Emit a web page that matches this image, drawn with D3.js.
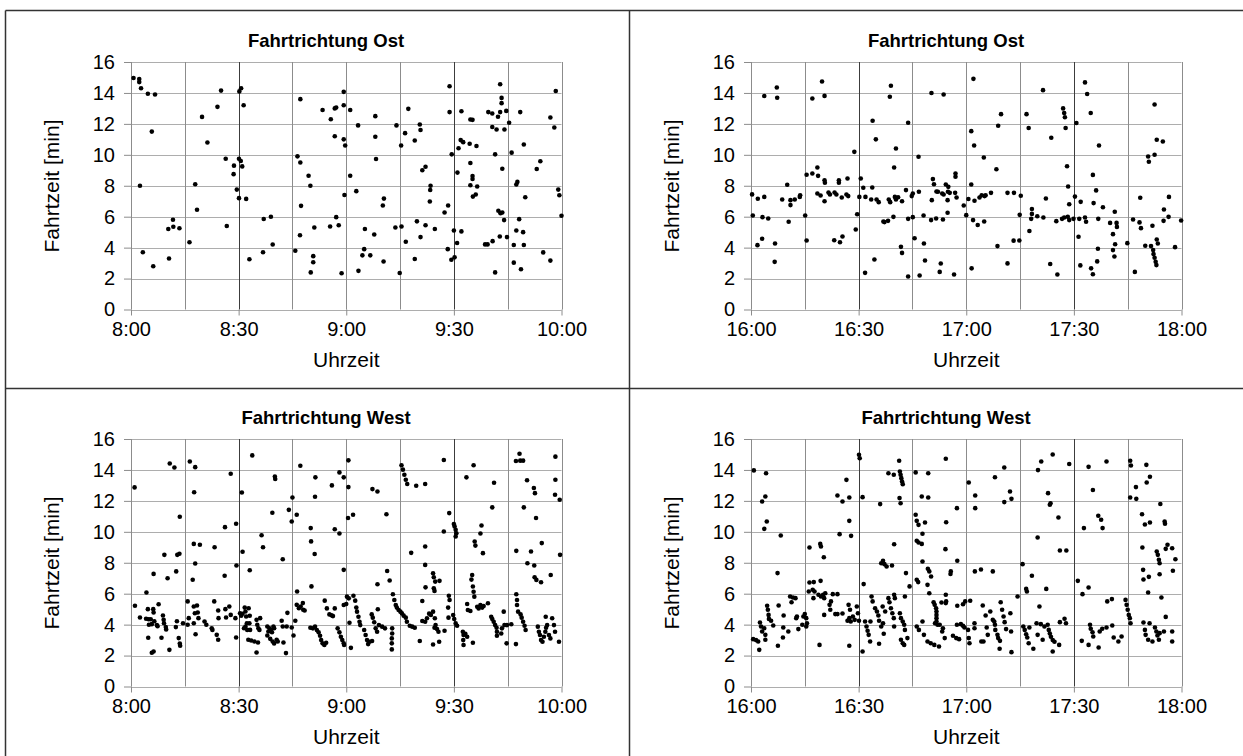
<!DOCTYPE html>
<html>
<head>
<meta charset="utf-8">
<script src="https://cdn.jsdelivr.net/npm/d3@7"></script>
<style>
  body { margin: 0; background: #fff; }
  text { font-family: "Liberation Sans", Arial, sans-serif; fill: #000; }
</style>
</head>
<body>
<div id="chart"></div>
<script>
var svgWidth = 1243;
var svgHeight = 756;

// tick labels
var amTickLabels = ["8:00", "8:30", "9:00", "9:30", "10:00"];
var pmTickLabels = ["16:00", "16:30", "17:00", "17:30", "18:00"];
var tickMinutes = [0, 30, 60, 90, 120];
var yTickValues = [0, 2, 4, 6, 8, 10, 12, 14, 16];

// [minutes after start of window, travel time in min]
var ostVormittag = [[0.7,14.97],[2.3,14.9],[2.3,14.7],[2.8,14.3],[4.7,13.95],[6.7,13.9],[5.8,11.5],[2.5,8.0],[3.3,3.7],[6.2,2.8],[10.6,3.3],[10.4,5.2],[11.7,5.8],[11.8,5.35],[13.5,5.25],[16.3,4.35],[17.9,8.1],[18.4,6.45],[19.8,12.45],[21.3,10.8],[24.1,13.1],[25.1,14.15],[26.7,5.4],[26.4,9.75],[28.7,9.3],[28.6,8.75],[29.5,7.75],[30.1,7.2],[30.1,9.75],[30.6,9.6],[31.0,9.25],[30.2,14.1],[30.7,14.3],[31.4,13.2],[32.1,7.15],[33.0,3.25],[36.8,3.7],[37.0,5.85],[39.0,6.0],[39.5,4.2],[45.8,3.8],[46.4,9.9],[47.2,9.5],[47.2,13.6],[47.1,4.8],[47.4,6.7],[49.5,8.65],[50.0,8.0],[50.1,2.4],[50.8,3.45],[50.8,3.05],[51.1,5.3],[53.4,12.9],[55.7,12.3],[56.8,13.0],[57.2,13.06],[56.8,11.2],[59.3,14.07],[59.3,13.2],[59.3,11.0],[59.7,10.6],[61.1,12.9],[63.3,11.9],[61.1,8.65],[59.5,7.4],[62.8,7.65],[57.2,5.97],[55.5,5.37],[57.9,5.45],[58.7,2.34],[63.4,2.5],[64.5,3.5],[65.0,3.9],[66.7,3.5],[65.2,5.2],[67.8,4.85],[68.1,12.5],[68.1,11.17],[68.3,9.73],[70.2,6.72],[70.5,7.17],[70.4,3.1],[73.7,5.3],[75.4,5.37],[74.0,11.9],[76.4,11.4],[77.3,12.97],[75.3,10.6],[76.6,4.38],[74.9,2.36],[79.1,3.26],[79.1,10.93],[80.5,11.96],[80.7,11.6],[79.7,5.7],[80.7,4.68],[82.1,5.45],[84.7,5.2],[81.2,9.0],[82.1,9.23],[83.5,8.0],[83.4,7.73],[83.3,6.98],[87.4,6.27],[88.4,6.72],[88.3,3.9],[89.3,3.22],[90.2,3.37],[88.8,14.43],[88.8,12.76],[89.4,10.03],[90.0,5.11],[90.9,4.3],[92.1,5.05],[91.0,8.85],[91.3,10.42],[92.1,12.82],[91.9,10.95],[92.6,10.82],[94.4,10.72],[96.3,10.57],[94.6,12.28],[95.2,12.26],[94.6,9.47],[95.2,8.63],[95.2,8.44],[94.6,8.03],[96.5,7.95],[95.3,7.3],[96.1,7.43],[98.7,4.21],[99.4,4.21],[100.8,4.42],[102.8,4.72],[104.8,4.68],[101.5,2.4],[99.6,12.76],[100.7,12.67],[102.3,12.46],[102.9,12.76],[104.6,12.84],[102.9,14.56],[103.3,13.68],[103.3,13.34],[100.7,11.8],[101.9,11.64],[104.1,11.64],[105.4,12.07],[101.5,10.03],[103.5,9.1],[106.1,10.14],[102.4,6.38],[103.0,6.23],[103.5,6.27],[104.0,5.78],[107.4,8.08],[107.7,8.25],[108.2,5.84],[107.4,5.11],[109.3,5.0],[106.7,4.17],[109.5,4.17],[106.7,3.03],[108.7,2.6],[109.9,7.26],[108.5,12.76],[109.5,10.67],[113.1,9.08],[114.1,9.58],[114.9,3.69],[116.9,3.16],[116.9,12.41],[118.0,11.77],[118.4,14.13],[119.1,7.75],[119.4,7.39],[120.0,6.06]];

var ostNachmittag = [[0.3,7.44],[0.5,6.08],[1.9,7.16],[3.7,7.28],[1.8,4.16],[3.1,4.57],[3.2,5.97],[4.8,5.88],[3.7,13.8],[7.2,14.35],[7.3,13.69],[6.7,4.27],[6.6,3.08],[8.7,7.11],[10.1,8.06],[10.5,5.67],[11.0,7.07],[11.0,6.75],[12.2,7.11],[13.6,7.28],[13.7,7.39],[15.1,6.08],[15.5,4.46],[15.5,8.71],[17.1,8.79],[18.5,9.18],[18.7,8.64],[17.1,13.64],[19.8,14.74],[20.5,13.81],[18.5,7.5],[19.4,7.37],[20.5,8.36],[20.6,8.19],[20.5,7.0],[21.6,7.56],[22.0,7.43],[23.3,7.56],[23.8,7.43],[24.5,8.36],[24.5,8.19],[25.3,7.24],[26.9,8.47],[26.6,7.43],[27.1,7.33],[23.2,4.48],[24.8,4.35],[25.5,4.72],[28.8,10.19],[29.2,5.17],[29.6,6.16],[30.2,7.28],[30.6,8.47],[31.3,7.87],[31.9,7.28],[31.8,2.37],[33.8,7.89],[33.5,7.11],[34.4,3.23],[33.9,12.2],[34.8,11.0],[35.0,7.11],[35.6,6.94],[36.9,5.69],[37.2,5.65],[38.2,5.73],[38.4,7.11],[38.8,6.94],[38.7,13.75],[39.0,14.46],[39.7,5.99],[40.1,7.28],[40.4,7.11],[40.4,10.41],[39.9,9.18],[41.8,4.05],[42.1,3.66],[41.0,7.26],[42.1,7.0],[43.2,7.72],[43.8,12.07],[43.8,5.86],[43.8,2.13],[45.1,7.5],[44.8,7.33],[45.1,5.97],[45.6,4.61],[46.8,7.61],[46.7,9.87],[47.0,2.2],[48.1,6.08],[48.2,4.27],[48.5,3.17],[50.3,14.0],[53.7,13.9],[50.7,8.43],[51.0,8.1],[50.4,7.07],[51.7,7.63],[52.1,7.61],[53.3,7.5],[53.7,7.43],[54.9,7.61],[55.4,7.54],[54.8,7.07],[54.3,8.08],[55.0,7.93],[57.0,8.79],[57.0,8.58],[56.9,7.54],[57.3,7.24],[50.2,5.78],[51.6,5.88],[53.5,5.82],[54.8,6.25],[52.6,2.43],[52.9,2.97],[56.6,2.26],[59.3,6.72],[60.0,6.1],[60.6,7.14],[62.3,7.03],[61.4,8.08],[61.4,11.53],[62.2,10.6],[62.0,14.91],[64.9,9.83],[63.7,7.24],[64.3,7.39],[65.1,7.33],[65.4,7.39],[66.9,7.54],[61.9,5.78],[63.2,5.46],[65.0,5.69],[61.5,2.66],[68.4,9.07],[68.9,11.88],[69.7,12.63],[68.7,4.1],[71.5,7.54],[73.3,7.54],[75.2,7.35],[74.9,6.12],[71.5,2.98],[73.2,4.45],[74.8,4.46],[76.8,12.63],[77.4,11.73],[77.6,5.07],[78.3,6.5],[78.3,6.18],[78.1,5.86],[79.8,6.03],[81.5,5.95],[82.2,7.18],[81.4,14.18],[83.7,11.1],[83.4,2.94],[85.4,2.26],[85.1,5.71],[86.7,5.86],[87.3,5.95],[88.3,5.99],[88.7,5.78],[87.0,13.0],[87.3,12.7],[87.5,12.43],[87.7,11.73],[88.1,9.26],[88.4,7.95],[88.7,6.8],[90.3,7.3],[89.9,5.86],[91.5,5.86],[93.1,5.95],[93.4,5.67],[91.9,6.96],[90.7,12.06],[91.3,4.7],[91.8,2.85],[93.1,14.68],[93.7,13.93],[94.7,12.7],[97.0,10.6],[95.3,8.7],[96.2,7.7],[95.5,6.88],[96.8,5.86],[98.1,6.61],[96.7,3.93],[96.5,3.11],[94.8,2.66],[95.3,2.28],[101.4,6.32],[100.1,5.6],[101.9,5.6],[102.0,5.34],[100.9,4.87],[101.5,4.22],[100.9,3.84],[101.3,3.43],[104.9,4.29],[107.0,2.43],[106.5,5.82],[108.3,5.63],[108.7,5.26],[108.5,7.22],[109.9,4.12],[111.5,4.1],[111.9,5.41],[112.1,3.84],[112.2,3.58],[112.5,3.35],[112.8,3.08],[113.0,2.87],[113.1,4.53],[113.4,4.27],[110.7,9.89],[110.9,9.55],[112.5,10.0],[113.1,10.97],[114.8,10.86],[112.5,13.25],[115.1,6.46],[116.5,7.28],[115.0,5.73],[116.4,5.99],[118.2,4.03],[119.9,5.75]];

var westVormittag = [[1.0,12.87],[1.1,5.22],[2.5,4.46],[4.3,6.08],[4.7,5.0],[4.9,4.35],[4.2,4.38],[5.0,3.99],[4.8,3.15],[5.5,4.35],[5.8,4.03],[6.2,5.0],[6.3,4.78],[6.3,7.28],[5.8,2.18],[6.3,2.26],[6.5,4.22],[7.2,3.97],[7.4,3.9],[7.7,5.32],[8.5,3.15],[8.9,4.59],[9.1,4.31],[9.2,4.09],[9.7,3.84],[9.8,3.69],[9.3,8.51],[10.2,7.0],[10.7,2.37],[10.8,14.42],[12.1,14.16],[12.6,7.44],[12.5,3.84],[12.8,4.22],[12.9,8.51],[13.5,8.58],[13.6,10.97],[13.3,3.13],[13.6,2.78],[13.7,2.63],[14.5,4.09],[15.8,3.99],[15.8,5.5],[16.1,4.42],[16.4,14.55],[17.9,14.18],[17.6,12.56],[17.5,9.22],[19.2,9.16],[17.9,7.95],[17.2,6.9],[17.5,5.17],[18.4,5.24],[17.8,4.74],[18.6,4.78],[17.5,4.09],[18.8,4.42],[18.0,3.38],[20.5,4.2],[21.0,3.99],[22.5,3.77],[22.7,3.66],[23.3,9.0],[23.2,5.5],[24.3,4.91],[24.4,4.42],[23.9,3.34],[24.3,3.02],[26.1,7.16],[26.2,10.3],[26.3,5.0],[26.5,4.46],[27.4,5.17],[27.8,4.63],[27.8,13.75],[29.3,10.52],[29.4,7.82],[29.1,4.42],[29.3,3.17],[30.4,4.74],[30.7,4.57],[31.1,4.7],[30.9,12.54],[31.1,8.71],[31.7,5.1],[31.9,4.85],[32.1,4.53],[32.3,4.09],[31.9,3.88],[31.5,3.77],[32.4,3.66],[32.8,5.06],[33.1,4.57],[33.0,4.09],[33.2,3.66],[32.7,3.02],[33.5,2.97],[34.4,2.91],[33.1,7.52],[33.8,14.94],[35.0,4.31],[35.2,3.99],[35.5,3.77],[35.8,3.66],[36.0,4.42],[35.0,2.2],[35.4,2.84],[36.4,9.78],[36.8,9.0],[38.0,3.88],[38.6,3.77],[39.0,3.66],[39.3,3.51],[38.3,3.56],[39.7,3.88],[39.9,3.77],[38.0,3.3],[38.8,3.08],[39.5,2.91],[39.9,2.78],[39.4,11.23],[40.1,13.58],[40.2,13.41],[40.6,3.02],[40.9,2.91],[42.3,8.23],[42.0,4.25],[42.3,3.88],[42.5,2.84],[43.2,2.16],[43.6,4.76],[43.4,3.88],[44.0,11.42],[44.8,10.67],[45.0,12.22],[46.2,11.1],[44.8,3.81],[45.3,3.3],[45.8,4.25],[46.3,6.14],[46.2,5.28],[46.8,5.06],[47.3,5.17],[48.0,4.96],[48.4,4.91],[47.9,5.39],[47.2,14.27],[50.1,10.24],[50.2,9.38],[50.3,6.47],[51.4,13.52],[51.3,12.27],[51.2,8.57],[50.0,3.8],[50.7,3.76],[51.3,3.87],[51.8,3.65],[52.3,3.5],[52.7,3.28],[53.0,3.0],[53.4,2.79],[53.9,2.68],[54.4,2.83],[54.0,5.55],[54.6,5.05],[55.3,4.66],[55.9,4.6],[56.3,4.55],[56.8,5.05],[56.0,13.0],[56.8,10.17],[58.1,9.89],[58.1,13.84],[59.3,13.52],[60.6,14.62],[60.6,12.89],[59.3,7.54],[57.6,3.76],[58.1,3.5],[58.5,3.22],[58.9,3.0],[59.3,2.79],[59.4,2.68],[59.3,5.27],[60.0,5.33],[60.2,5.81],[60.7,5.7],[61.3,2.5],[60.9,4.12],[62.0,5.87],[62.5,5.55],[62.8,5.1],[63.0,4.84],[63.4,4.51],[63.7,4.19],[63.9,3.97],[60.5,10.89],[61.9,11.1],[65.0,3.65],[65.4,3.33],[65.8,3.0],[66.1,2.74],[66.5,2.89],[67.2,2.94],[67.1,4.66],[67.4,4.45],[67.8,4.15],[68.2,3.76],[68.6,3.54],[69.1,3.97],[70.0,3.87],[70.8,3.76],[68.8,4.99],[67.3,12.76],[68.7,12.61],[71.2,11.14],[68.7,6.61],[71.4,7.47],[72.1,6.85],[72.8,3.76],[72.8,3.43],[72.7,3.11],[72.7,2.79],[72.7,2.4],[73.0,5.96],[73.4,5.59],[73.8,5.27],[74.1,5.1],[74.6,4.95],[75.1,4.84],[75.5,4.73],[76.0,4.58],[76.6,4.45],[76.9,4.19],[77.7,3.93],[78.4,3.87],[79.1,3.8],[75.4,14.3],[75.8,14.02],[76.2,13.69],[76.6,13.37],[77.0,13.09],[79.5,12.98],[82.0,13.09],[78.1,8.64],[82.0,9.05],[82.0,7.86],[81.2,5.53],[82.1,6.41],[81.2,4.23],[82.0,4.19],[82.5,4.41],[83.1,4.71],[83.6,4.62],[84.2,4.84],[84.7,4.41],[84.9,3.97],[84.6,3.8],[85.3,3.71],[85.7,3.54],[80.5,2.94],[84.2,2.72],[85.9,2.89],[84.2,7.32],[84.4,7.06],[84.8,6.78],[86.0,6.83],[84.4,6.35],[84.6,6.18],[87.2,14.64],[88.7,11.21],[87.2,10.02],[88.6,5.87],[88.8,5.59],[88.4,5.1],[88.5,4.45],[87.4,3.6],[90.0,10.5],[90.2,10.35],[90.5,10.13],[90.7,9.91],[90.5,9.7],[89.8,4.62],[90.1,4.36],[90.5,4.08],[90.9,3.93],[92.5,3.54],[92.7,3.33],[92.6,3.0],[92.7,2.68],[93.2,3.41],[93.7,3.22],[95.3,2.83],[93.7,5.33],[93.9,4.95],[94.6,4.88],[93.5,13.52],[95.5,14.3],[95.8,9.37],[96.0,9.11],[97.7,10.41],[97.4,9.89],[98.1,8.62],[95.1,7.21],[94.9,6.91],[95.3,6.46],[95.5,6.13],[95.7,5.81],[96.5,5.16],[96.9,5.05],[97.4,5.27],[97.9,5.1],[98.3,5.2],[99.5,5.38],[100.7,11.58],[101.2,13.17],[100.4,4.51],[100.7,4.36],[101.1,4.19],[101.5,3.97],[101.9,3.8],[102.0,3.54],[102.0,3.28],[103.2,3.43],[103.4,3.76],[103.9,4.84],[104.1,3.97],[104.8,3.97],[104.7,2.79],[106.0,4.02],[107.3,2.74],[107.4,8.77],[107.4,5.96],[107.6,5.59],[107.6,5.27],[107.9,4.84],[108.6,4.66],[108.9,4.45],[109.3,4.19],[109.7,3.93],[110.0,3.65],[107.3,14.58],[108.5,14.6],[109.3,14.6],[108.3,15.05],[110.4,13.33],[112.3,12.83],[112.6,12.5],[109.5,11.58],[112.9,10.89],[111.5,8.73],[114.5,9.27],[110.5,7.97],[112.4,7.82],[112.5,7.06],[113.0,6.89],[114.3,6.74],[117.0,7.21],[119.6,8.51],[118.3,14.86],[118.3,13.37],[118.2,12.4],[119.5,12.07],[113.4,3.87],[113.7,3.54],[114.0,3.33],[114.3,3.0],[114.7,2.89],[115.1,3.22],[115.5,3.54],[115.7,3.8],[116.0,3.97],[116.5,3.33],[116.9,3.11],[115.6,4.51],[117.4,4.41],[117.9,3.97],[118.2,3.54],[119.3,2.89]];

var westNachmittag = [[0.8,13.97],[3.1,11.96],[4.0,12.28],[4.2,13.79],[3.7,10.19],[4.4,10.67],[0.6,3.06],[1.4,3.0],[2.3,2.37],[2.0,2.91],[2.5,4.14],[2.8,3.88],[3.1,3.56],[4.0,3.02],[4.0,3.34],[3.7,3.77],[4.5,5.22],[4.7,4.96],[4.9,4.63],[5.0,4.37],[5.6,4.25],[6.2,3.94],[7.4,7.33],[7.7,5.24],[7.5,2.63],[8.3,9.76],[9.1,4.59],[9.0,3.81],[8.9,3.17],[10.4,3.56],[10.9,5.82],[11.3,5.45],[11.7,5.75],[12.4,5.71],[12.6,4.42],[12.8,4.53],[13.2,3.71],[14.3,3.99],[14.6,4.53],[15.0,4.68],[15.4,4.42],[15.6,4.09],[15.4,3.88],[16.3,8.99],[16.3,6.72],[17.5,6.75],[17.2,6.25],[17.7,6.14],[16.1,6.14],[17.4,5.71],[19.3,9.22],[19.5,9.05],[20.3,8.36],[19.4,6.83],[18.8,5.93],[19.5,5.82],[20.1,5.93],[20.7,6.03],[20.4,5.71],[19.1,2.69],[20.4,4.63],[21.9,5.28],[22.3,5.5],[22.1,4.96],[22.8,5.97],[24.1,5.97],[23.5,4.68],[24.1,4.68],[25.5,4.72],[24.1,12.35],[25.5,11.96],[27.4,12.22],[26.6,13.36],[24.7,9.85],[27.4,10.71],[27.9,9.74],[27.4,2.63],[27.2,5.28],[27.6,4.96],[27.4,4.42],[26.9,4.25],[27.8,4.2],[28.4,4.53],[28.9,4.31],[30.1,14.98],[30.3,14.76],[31.1,12.24],[31.1,2.26],[31.4,6.62],[29.5,5.17],[29.8,4.74],[30.1,4.25],[31.8,4.2],[32.2,3.88],[32.5,3.6],[32.8,3.34],[33.2,2.91],[33.3,4.2],[33.6,5.82],[33.9,5.5],[34.6,5.06],[35.1,4.85],[35.5,4.59],[35.7,4.25],[36.3,3.88],[35.7,2.76],[36.0,11.79],[36.3,7.97],[36.8,8.13],[37.2,7.91],[37.8,7.76],[39.3,7.82],[36.7,5.17],[37.4,4.85],[36.8,4.09],[37.0,3.41],[38.3,5.71],[38.6,5.45],[39.0,5.06],[39.4,4.74],[39.8,4.42],[39.9,3.88],[39.9,5.93],[40.1,5.71],[39.9,9.2],[38.3,13.79],[39.8,13.69],[41.3,14.59],[41.5,13.9],[41.7,13.69],[41.9,13.47],[42.1,13.25],[42.3,13.08],[41.4,12.18],[41.7,11.85],[41.5,4.74],[41.8,4.42],[42.3,4.2],[42.7,3.99],[42.9,3.66],[41.8,3.02],[42.3,2.8],[42.7,2.69],[43.6,3.13],[42.9,5.82],[43.2,7.33],[44.2,6.47],[45.9,13.84],[49.4,13.79],[45.9,11.1],[46.2,10.71],[46.7,10.45],[46.2,9.42],[46.7,9.31],[47.6,9.22],[47.6,12.28],[49.4,12.22],[48.5,10.6],[47.8,9.87],[47.8,8.08],[46.2,6.9],[46.6,6.75],[49.3,7.61],[49.7,7.44],[50.2,7.11],[49.2,6.57],[49.7,6.03],[46.2,3.88],[46.8,3.66],[47.8,4.2],[48.2,3.34],[49.2,2.91],[50.1,2.8],[50.9,5.45],[51.2,5.28],[51.6,5.06],[51.7,4.85],[51.7,4.63],[51.7,4.42],[51.7,4.2],[51.3,4.09],[52.0,3.99],[52.6,3.99],[53.5,3.77],[53.3,3.56],[53.1,5.43],[54.3,5.39],[54.4,5.5],[54.3,5.93],[54.2,8.88],[54.4,10.62],[54.3,14.72],[57.4,11.53],[57.5,8.13],[55.7,7.44],[55.6,7.27],[57.5,5.22],[59.1,5.32],[59.7,5.5],[61.1,5.54],[57.4,3.99],[58.5,4.03],[59.1,3.92],[59.5,3.81],[60.5,3.66],[60.9,2.8],[60.7,3.13],[56.3,3.28],[57.2,3.13],[58.0,3.06],[51.1,2.69],[52.4,2.59],[54.0,3.13],[62.4,7.44],[64.1,7.56],[67.4,7.44],[60.7,13.19],[62.5,12.35],[62.5,11.53],[64.6,5.24],[65.4,4.59],[66.7,4.85],[67.4,4.31],[67.8,4.2],[68.0,3.99],[68.1,3.66],[68.7,3.34],[68.9,3.13],[69.4,2.95],[62.3,4.09],[62.3,3.77],[64.2,2.91],[64.8,2.91],[65.7,3.81],[66.0,3.34],[68.0,13.53],[70.6,14.16],[72.2,12.61],[72.6,12.13],[70.6,11.92],[69.6,5.45],[70.0,4.96],[70.4,4.53],[70.7,4.16],[71.1,3.71],[72.3,4.74],[72.5,3.56],[69.3,2.44],[72.6,2.22],[74.3,5.82],[75.7,7.91],[76.7,6.31],[76.9,6.14],[75.9,3.88],[76.3,3.66],[76.7,3.38],[77.0,3.17],[77.6,3.81],[77.4,2.8],[78.7,2.44],[78.3,7.16],[80.0,13.99],[80.9,14.55],[84.1,15.0],[88.7,14.38],[82.8,12.5],[83.5,11.85],[83.3,11.75],[85.7,10.93],[79.9,9.63],[86.1,8.79],[87.9,8.79],[82.3,6.31],[80.4,5.17],[79.6,4.09],[80.8,4.03],[81.8,3.88],[82.7,3.99],[83.0,3.66],[83.3,3.43],[83.6,3.22],[84.1,3.0],[84.6,2.89],[85.9,2.69],[79.9,3.34],[81.3,3.02],[84.1,2.26],[86.1,4.16],[87.4,4.38],[87.8,4.09],[91.1,6.83],[92.4,5.97],[94.1,6.4],[92.8,10.24],[94.1,14.2],[95.3,12.7],[96.8,11.04],[97.6,10.78],[98.0,10.24],[99.1,14.55],[92.2,2.95],[94.1,2.69],[96.9,2.52],[94.5,3.99],[94.7,3.73],[95.2,3.51],[95.4,3.23],[97.2,3.56],[97.9,3.73],[99.1,3.81],[100.7,3.94],[101.1,3.17],[102.4,2.91],[103.3,3.23],[99.3,5.5],[100.6,5.65],[104.4,5.6],[104.7,5.28],[105.0,4.96],[105.3,4.63],[105.6,4.42],[105.8,4.09],[105.7,14.59],[105.9,14.29],[110.2,14.33],[111.2,13.56],[110.3,13.19],[107.3,12.89],[105.7,12.22],[107.4,12.13],[109.0,11.14],[109.8,10.47],[111.2,10.6],[109.1,8.99],[114.1,11.8],[115.3,10.67],[115.4,10.52],[113.1,8.73],[113.4,8.51],[113.7,8.19],[113.9,7.97],[115.6,8.9],[116.1,9.16],[117.4,8.94],[118.3,8.23],[109.3,7.54],[110.9,7.09],[109.4,6.92],[110.7,6.08],[113.9,7.26],[117.6,7.48],[114.4,5.75],[115.6,4.5],[109.4,4.14],[111.1,4.09],[109.8,3.66],[110.0,3.34],[110.7,3.02],[111.9,2.91],[112.6,3.81],[113.0,3.56],[113.3,3.3],[113.7,3.02],[113.9,3.45],[115.1,3.56],[117.4,3.56],[117.4,2.91]];

var panels = [
  { title: "Fahrtrichtung Ost", data: ostVormittag, labels: amTickLabels, x: 0, y: 0 },
  { title: "Fahrtrichtung Ost", data: ostNachmittag, labels: pmTickLabels, x: 620, y: 0 },
  { title: "Fahrtrichtung West", data: westVormittag, labels: amTickLabels, x: 0, y: 377 },
  { title: "Fahrtrichtung West", data: westNachmittag, labels: pmTickLabels, x: 620, y: 377 }
];

// plot area inside each panel
var plot = { left: 131, right: 561.5, top: 62, bottom: 309.5 };

var svg = d3.select("#chart")
  .append("svg")
  .attr("width", svgWidth)
  .attr("height", svgHeight);

svg.append("rect").attr("width", svgWidth).attr("height", svgHeight).attr("fill", "#fff");

var xScale = d3.scaleLinear().domain([0, 120]).range([plot.left, plot.right]);
var yScale = d3.scaleLinear().domain([0, 16]).range([plot.bottom, plot.top]);

panels.forEach(function(p) {
  var g = svg.append("g").attr("transform", `translate(${p.x}, ${p.y})`);

  // horizontal gridlines
  g.selectAll(".hgrid")
    .data(yTickValues)
    .enter()
    .append("line")
    .attr("x1", plot.left).attr("x2", plot.right)
    .attr("y1", d => Math.round(yScale(d)) + 0.5)
    .attr("y2", d => Math.round(yScale(d)) + 0.5)
    .attr("stroke", "#adadad");

  // vertical gridlines every 15 min, darker at :30
  g.selectAll(".vgrid")
    .data(d3.range(0, 121, 15))
    .enter()
    .append("line")
    .attr("x1", d => Math.round(xScale(d)) + 0.5)
    .attr("x2", d => Math.round(xScale(d)) + 0.5)
    .attr("y1", plot.top)
    .attr("y2", plot.bottom)
    .attr("stroke", d => (d === 30 || d === 90) ? "#3c3c3c" : "#8c8c8c");

  var leftAxis = d3.axisLeft(yScale).tickValues(yTickValues).tickSize(7).tickPadding(9);
  var yAxisG = g.append("g").attr("transform", `translate(${plot.left}, 0)`).call(leftAxis);

  var bottomAxis = d3.axisBottom(xScale)
    .tickValues(tickMinutes)
    .tickSize(6)
    .tickPadding(6)
    .tickFormat((d, i) => p.labels[i]);
  var xAxisG = g.append("g").attr("transform", `translate(0, ${plot.bottom})`).call(bottomAxis);

  [yAxisG, xAxisG].forEach(function(a) {
    a.select(".domain").remove();
    a.selectAll(".tick line").attr("stroke", "#8c8c8c");
    a.selectAll(".tick text")
      .attr("font-family", "Liberation Sans, Arial, sans-serif")
      .attr("font-size", 20)
      .attr("fill", "#000");
  });

  g.selectAll(".dot")
    .data(p.data)
    .enter()
    .append("circle")
    .attr("cx", d => xScale(d[0]))
    .attr("cy", d => yScale(d[1]))
    .attr("r", 2.3)
    .attr("fill", "#000");

  g.append("text")
    .attr("x", 326)
    .attr("y", 46.5)
    .attr("text-anchor", "middle")
    .attr("font-size", 18.5)
    .attr("font-weight", "bold")
    .text(p.title);

  g.append("text")
    .attr("x", (plot.left + plot.right) / 2)
    .attr("y", 367)
    .attr("text-anchor", "middle")
    .attr("font-size", 21)
    .text("Uhrzeit");

  g.append("text")
    .attr("transform", `translate(59, 186) rotate(-90)`)
    .attr("text-anchor", "middle")
    .attr("font-size", 21)
    .text("Fahrtzeit [min]");
});

// panel frame lines
var frame = [
  [5.5, 10.5, svgWidth, 10.5],
  [5.5, 10.5, 5.5, svgHeight],
  [629.5, 10.5, 629.5, svgHeight],
  [5.5, 388.5, svgWidth, 388.5]
];
svg.selectAll(".frame")
  .data(frame)
  .enter()
  .append("line")
  .attr("x1", d => d[0]).attr("y1", d => d[1])
  .attr("x2", d => d[2]).attr("y2", d => d[3])
  .attr("stroke", "#333")
  .attr("stroke-width", 1.5);
</script>
</body>
</html>
